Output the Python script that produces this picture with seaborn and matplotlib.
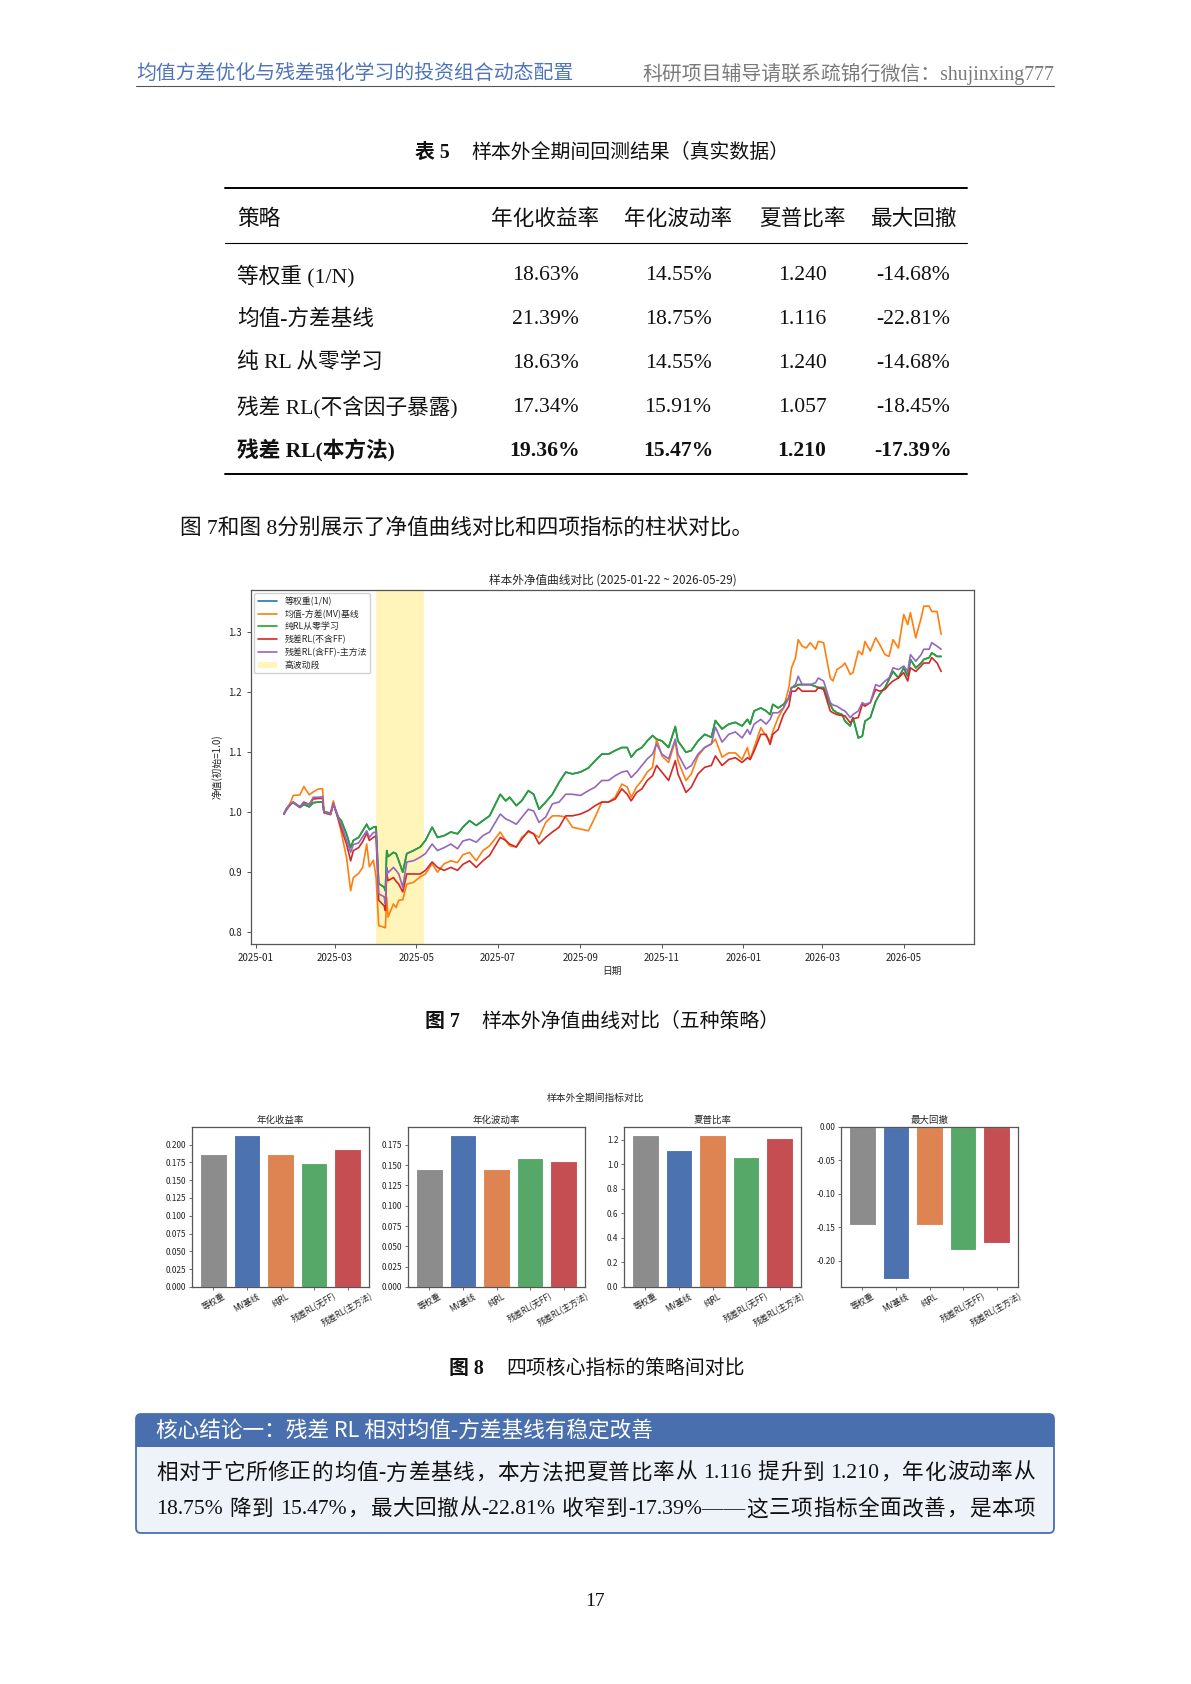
import matplotlib
matplotlib.use("Agg")
import matplotlib.pyplot as plt
import matplotlib.dates as mdates
from matplotlib.patches import FancyBboxPatch, Rectangle
import pandas as pd
import seaborn as sns

# ---------------- data ----------------
# Table 5
table_strategies = ["等权重 (1/N)", "均值-方差基线", "纯 RL 从零学习", "残差 RL(不含因子暴露)", "残差 RL(本方法)"]
table_columns = ["年化收益率", "年化波动率", "夏普比率", "最大回撤"]
ann_return = [18.63, 21.39, 18.63, 17.34, 19.36]
ann_vol = [14.55, 18.75, 14.55, 15.91, 15.47]
sharpe = [1.240, 1.116, 1.240, 1.057, 1.210]
max_dd = [-14.68, -22.81, -14.68, -18.45, -17.39]

# Figure 7: net value curves
nav_dates = [
    "2025-01-22", "2025-01-24", "2025-01-27", "2025-01-29", "2025-02-03", "2025-02-06", "2025-02-10", "2025-02-13", "2025-02-17", "2025-02-20",
    "2025-02-21", "2025-02-26", "2025-02-28", "2025-03-04", "2025-03-06", "2025-03-10", "2025-03-13", "2025-03-15", "2025-03-19", "2025-03-22",
    "2025-03-25", "2025-03-27", "2025-03-30", "2025-04-01", "2025-04-03", "2025-04-07", "2025-04-08", "2025-04-09", "2025-04-10", "2025-04-14",
    "2025-04-16", "2025-04-18", "2025-04-21", "2025-04-24", "2025-04-29", "2025-05-04", "2025-05-08", "2025-05-13", "2025-05-17", "2025-05-22",
    "2025-05-27", "2025-06-01", "2025-06-05", "2025-06-10", "2025-06-15", "2025-06-20", "2025-06-25", "2025-07-03", "2025-07-07", "2025-07-10",
    "2025-07-15", "2025-07-19", "2025-07-24", "2025-07-28", "2025-08-01", "2025-08-06", "2025-08-11", "2025-08-16", "2025-08-21", "2025-08-26",
    "2025-09-01", "2025-09-07", "2025-09-12", "2025-09-17", "2025-09-22", "2025-09-27", "2025-10-02", "2025-10-06", "2025-10-09", "2025-10-13",
    "2025-10-17", "2025-10-21", "2025-10-25", "2025-10-28", "2025-11-01", "2025-11-06", "2025-11-11", "2025-11-13", "2025-11-19", "2025-11-23",
    "2025-11-28", "2025-12-03", "2025-12-08", "2025-12-11", "2025-12-16", "2025-12-21", "2025-12-26", "2025-12-31", "2026-01-04", "2026-01-06",
    "2026-01-09", "2026-01-14", "2026-01-18", "2026-01-21", "2026-01-23", "2026-01-27", "2026-01-31", "2026-02-04", "2026-02-06", "2026-02-09",
    "2026-02-11", "2026-02-14", "2026-02-17", "2026-02-20", "2026-02-24", "2026-02-26", "2026-03-02", "2026-03-07", "2026-03-09", "2026-03-12",
    "2026-03-16", "2026-03-18", "2026-03-22", "2026-03-24", "2026-03-28", "2026-03-31", "2026-04-02", "2026-04-06", "2026-04-10", "2026-04-13",
    "2026-04-17", "2026-04-20", "2026-04-23", "2026-04-27", "2026-05-01", "2026-05-04", "2026-05-06", "2026-05-10", "2026-05-14", "2026-05-16",
    "2026-05-20", "2026-05-22", "2026-05-26", "2026-05-29",
]
nav_pure_rl = [
    0.996, 1.005, 1.013, 1.015, 1.007, 1.012, 1.008, 1.015, 1.016, 1.016,
    1.000, 0.997, 1.012, 0.990, 0.985, 0.962, 0.940, 0.952, 0.957, 0.968,
    0.979, 0.970, 0.974, 0.975, 0.880, 0.874, 0.868, 0.935, 0.925, 0.932,
    0.930, 0.918, 0.899, 0.930, 0.935, 0.941, 0.952, 0.974, 0.957, 0.960,
    0.966, 0.963, 0.974, 0.985, 0.977, 0.985, 0.993, 1.029, 1.018, 1.024,
    1.010, 1.018, 1.035, 1.029, 1.004, 1.016, 1.029, 1.049, 1.066, 1.063,
    1.066, 1.073, 1.085, 1.096, 1.096, 1.102, 1.107, 1.107, 1.091, 1.102,
    1.107, 1.118, 1.127, 1.121, 1.118, 1.107, 1.142, 1.118, 1.099, 1.102,
    1.118, 1.129, 1.124, 1.152, 1.138, 1.146, 1.149, 1.143, 1.154, 1.146,
    1.168, 1.173, 1.168, 1.162, 1.179, 1.173, 1.179, 1.190, 1.207, 1.209,
    1.212, 1.212, 1.212, 1.212, 1.209, 1.207, 1.207, 1.179, 1.170, 1.165,
    1.162, 1.151, 1.143, 1.157, 1.123, 1.126, 1.151, 1.157, 1.184, 1.196,
    1.207, 1.221, 1.234, 1.223, 1.240, 1.226, 1.254, 1.240, 1.248, 1.254,
    1.257, 1.265, 1.259, 1.259,
]
# equal weight has the same stats as pure RL in table 5; its line sits under the green one
nav_equal = list(nav_pure_rl)
nav_mv = [
    0.996, 1.005, 1.015, 1.027, 1.028, 1.042, 1.028, 1.033, 1.038, 1.038,
    1.000, 0.998, 1.018, 0.985, 0.965, 0.922, 0.868, 0.890, 0.897, 0.907,
    0.946, 0.908, 0.919, 0.891, 0.810, 0.807, 0.806, 0.857, 0.824, 0.846,
    0.840, 0.852, 0.853, 0.879, 0.882, 0.891, 0.896, 0.913, 0.899, 0.913,
    0.918, 0.915, 0.928, 0.932, 0.918, 0.935, 0.943, 0.966, 0.952, 0.943,
    0.941, 0.957, 0.966, 0.963, 0.957, 0.982, 0.993, 0.993, 0.991, 0.974,
    0.971, 0.968, 0.991, 1.016, 1.016, 1.024, 1.046, 1.041, 1.024, 1.041,
    1.052, 1.066, 1.074, 1.121, 1.093, 1.082, 1.118, 1.085, 1.052, 1.063,
    1.093, 1.107, 1.113, 1.121, 1.091, 1.098, 1.098, 1.087, 1.107, 1.087,
    1.107, 1.140, 1.126, 1.118, 1.134, 1.157, 1.173, 1.207, 1.240, 1.257,
    1.287, 1.276, 1.273, 1.282, 1.271, 1.284, 1.282, 1.223, 1.218, 1.237,
    1.243, 1.248, 1.229, 1.232, 1.268, 1.262, 1.284, 1.268, 1.290, 1.279,
    1.262, 1.259, 1.287, 1.273, 1.329, 1.312, 1.332, 1.290, 1.323, 1.343,
    1.343, 1.334, 1.334, 1.296,
]
nav_resid_noff = [
    0.996, 1.003, 1.012, 1.016, 1.008, 1.016, 1.012, 1.021, 1.022, 1.022,
    0.998, 0.995, 1.014, 0.985, 0.972, 0.945, 0.918, 0.935, 0.940, 0.950,
    0.964, 0.952, 0.957, 0.960, 0.852, 0.843, 0.835, 0.896, 0.885, 0.890,
    0.884, 0.879, 0.866, 0.896, 0.896, 0.896, 0.902, 0.916, 0.907, 0.902,
    0.907, 0.902, 0.912, 0.918, 0.907, 0.918, 0.927, 0.957, 0.952, 0.946,
    0.941, 0.954, 0.968, 0.963, 0.946, 0.957, 0.966, 0.974, 0.993, 0.993,
    0.996, 1.002, 1.010, 1.016, 1.016, 1.021, 1.038, 1.029, 1.018, 1.032,
    1.038, 1.052, 1.060, 1.077, 1.066, 1.052, 1.085, 1.063, 1.032, 1.041,
    1.063, 1.074, 1.077, 1.093, 1.077, 1.087, 1.090, 1.082, 1.090, 1.087,
    1.101, 1.129, 1.129, 1.112, 1.129, 1.137, 1.162, 1.176, 1.201, 1.201,
    1.207, 1.201, 1.201, 1.201, 1.201, 1.207, 1.204, 1.168, 1.165, 1.162,
    1.160, 1.160, 1.148, 1.155, 1.157, 1.179, 1.176, 1.182, 1.204, 1.201,
    1.204, 1.212, 1.218, 1.223, 1.232, 1.218, 1.240, 1.234, 1.243, 1.248,
    1.248, 1.257, 1.248, 1.234,
]
nav_resid_main = [
    0.996, 1.004, 1.013, 1.016, 1.008, 1.014, 1.012, 1.024, 1.024, 1.025,
    0.999, 0.996, 1.013, 0.988, 0.978, 0.952, 0.932, 0.945, 0.948, 0.958,
    0.968, 0.957, 0.965, 0.966, 0.863, 0.858, 0.846, 0.907, 0.898, 0.907,
    0.902, 0.896, 0.874, 0.916, 0.918, 0.924, 0.930, 0.946, 0.935, 0.940,
    0.946, 0.938, 0.951, 0.954, 0.949, 0.960, 0.966, 0.996, 0.988, 0.985,
    0.979, 0.990, 1.004, 1.001, 0.982, 0.991, 1.013, 1.016, 1.029, 1.029,
    1.027, 1.035, 1.041, 1.052, 1.052, 1.060, 1.066, 1.068, 1.057, 1.066,
    1.077, 1.088, 1.096, 1.113, 1.096, 1.088, 1.121, 1.096, 1.071, 1.077,
    1.096, 1.107, 1.113, 1.141, 1.116, 1.129, 1.133, 1.123, 1.137, 1.129,
    1.146, 1.154, 1.146, 1.154, 1.165, 1.165, 1.173, 1.190, 1.207, 1.212,
    1.226, 1.212, 1.212, 1.212, 1.215, 1.223, 1.218, 1.182, 1.178, 1.176,
    1.170, 1.168, 1.157, 1.162, 1.168, 1.182, 1.179, 1.182, 1.212, 1.209,
    1.218, 1.223, 1.240, 1.237, 1.243, 1.234, 1.262, 1.251, 1.262, 1.271,
    1.271, 1.282, 1.276, 1.271,
]
nav_names = ["等权重(1/N)", "均值-方差(MV)基线", "纯RL从零学习", "残差RL(不含FF)", "残差RL(含FF)-主方法"]
high_vol_start = "2025-04-01"
high_vol_end = "2025-05-07"

# Figure 8: bar comparison
bar_labels = ["等权重", "MV基线", "纯RL", "残差RL(无FF)", "残差RL(主方法)"]
bar_titles = ["年化收益率", "年化波动率", "夏普比率", "最大回撤"]

# ---------------- styling ----------------
W, H = 1191, 1684
SANS = ["Noto Sans CJK SC", "DejaVu Sans"]
SERIF = ["Liberation Serif", "Noto Sans CJK SC"]
BODY = 15.6

sns.set_style("ticks")
plt.rcParams["font.family"] = SANS
plt.rcParams["axes.unicode_minus"] = False
plt.rcParams["axes.edgecolor"] = "#555555"
plt.rcParams["xtick.color"] = "#555555"
plt.rcParams["ytick.color"] = "#555555"
plt.rcParams["xtick.labelcolor"] = "#222222"
plt.rcParams["ytick.labelcolor"] = "#222222"

fig = plt.figure(figsize=(W / 100, H / 100), dpi=100)

# page layer in pixel coordinates
page = fig.add_axes([0, 0, 1, 1])
page.set_xlim(0, W)
page.set_ylim(H, 0)
page.axis("off")


def put(x, y, s, size=BODY, fam=SERIF, weight="light", color="#111111", ha="left"):
    return page.text(x, y, s, fontsize=size, family=fam, fontweight=weight,
                     color=color, ha=ha, va="center")


def is_cjk(ch):
    return ord(ch) > 0x2E80


def put_justified(x0, x1, y, s, size=BODY):
    # split into CJK glyphs, latin runs and spaces, then spread the slack evenly
    tokens = []
    run = ""
    for ch in s:
        if ch == " " or is_cjk(ch):
            if run:
                tokens.append(run)
                run = ""
            tokens.append(ch)
        else:
            run += ch
    if run:
        tokens.append(run)
    r = fig.canvas.get_renderer()
    widths = []
    for tk in tokens:
        if tk == " ":
            widths.append(size * 100 / 72 * 0.25)
            continue
        t = put(0, y, tk, size=size)
        widths.append(t.get_window_extent(r).width)
        t.remove()
    gap = (x1 - x0 - sum(widths)) / (len(tokens) - 1)
    x = x0
    for tk, w in zip(tokens, widths):
        if tk != " ":
            put(x, y, tk, size=size)
        x += w + gap


# header
put(136, 74, "均值方差优化与残差强化学习的投资组合动态配置", size=14.3, color="#4F74BA")
put(1054, 74, "科研项目辅导请联系疏锦行微信：shujinxing777", size=14.3, color="#7A7A7A", ha="right")
page.plot([136, 1054], [86, 86], color="#555555", lw=0.8)

# table caption
put(450, 153, "表 5", size=14.3, weight="bold", ha="right")
put(471, 153, "样本外全期间回测结果（真实数据）", size=14.3)

# table
page.plot([225, 967], [188, 188], color="black", lw=1.4)
page.plot([225, 967], [243, 243], color="black", lw=0.8)
page.plot([225, 967], [474, 474], color="black", lw=1.4)
col_x = [545, 678, 802, 913]
put(237, 219, "策略", fam=SANS, weight="medium")
for cx, name in zip(col_x, table_columns):
    put(cx, 219, name, fam=SANS, weight="medium", ha="center")

row_y = [276, 319, 363, 407, 451]
for i, name in enumerate(table_strategies):
    w = "bold" if i == len(table_strategies) - 1 else "light"
    put(237, row_y[i], name, weight=w)
    vals = [f"{ann_return[i]:.2f}%", f"{ann_vol[i]:.2f}%", f"{sharpe[i]:.3f}", f"{max_dd[i]:.2f}%"]
    for cx, v in zip(col_x, vals):
        put(cx, row_y[i], v, weight=w, ha="center")

put(180, 528, "图 7和图 8分别展示了净值曲线对比和四项指标的柱状对比。")

# ---------------- figure 7 ----------------
ax = fig.add_axes([251 / W, 1 - 944 / H, (974 - 251) / W, (944 - 590) / H])
dates = pd.to_datetime(nav_dates)
series = [nav_equal, nav_mv, nav_pure_rl, nav_resid_noff, nav_resid_main]
colors = ["#1f77b4", "#ff7f0e", "#2ca02c", "#d62728", "#9467bd"]
for name, vals, color in zip(nav_names, series, colors):
    sns.lineplot(x=dates, y=vals, ax=ax, color=color, linewidth=1.2,
                 label=name, errorbar=None)
ax.axvspan(pd.Timestamp(high_vol_start), pd.Timestamp(high_vol_end),
           color="#FFD700", alpha=0.27, lw=0, label="高波动段")
ax.xaxis.set_major_locator(mdates.MonthLocator(bymonth=[1, 3, 5, 7, 9, 11]))
ax.xaxis.set_major_formatter(mdates.DateFormatter("%Y-%m"))
ax.tick_params(labelsize=7, length=3, width=0.7)
for sp in ax.spines.values():
    sp.set_visible(True)
    sp.set_linewidth(0.9)
ax.set_title("样本外净值曲线对比 (2025-01-22 ~ 2026-05-29)", fontsize=8.4, pad=5)
ax.set_xlabel("日期", fontsize=7, labelpad=2)
ax.set_ylabel("净值(初始=1.0)", fontsize=7, labelpad=4)
ax.legend(loc="upper left", fontsize=6.4, framealpha=0.9, handlelength=2.2,
          borderaxespad=0.35, labelspacing=0.4)

put(460, 1022, "图 7", size=14.3, weight="bold", ha="right")
put(481, 1022, "样本外净值曲线对比（五种策略）", size=14.3)

# ---------------- figure 8 ----------------
fig.text(595 / W, 1 - 1098 / H, "样本外全期间指标对比", fontsize=7,
         ha="center", va="center", family=SANS)
bar_colors = ["#8C8C8C", "#4C72B0", "#DD8452", "#55A868", "#C44E52"]
bar_values = [
    [v / 100 for v in ann_return],
    [v / 100 for v in ann_vol],
    sharpe,
    [v / 100 for v in max_dd],
]
bar_left = [192, 408, 624, 841]
for x0, title, vals in zip(bar_left, bar_titles, bar_values):
    bx = fig.add_axes([x0 / W, 1 - 1287 / H, 177 / W, 160 / H])
    sns.barplot(x=bar_labels, y=vals, hue=bar_labels, palette=bar_colors,
                legend=False, ax=bx, saturation=1, width=0.8,
                edgecolor="white", linewidth=0.8)
    bx.set_xlim(-0.64, 4.64)
    bx.set_title(title, fontsize=6.8, pad=3)
    bx.set_xlabel("")
    bx.set_ylabel("")
    bx.tick_params(axis="x", labelsize=6, rotation=30, length=2.5, width=0.6, pad=1)
    bx.tick_params(axis="y", labelsize=5.9, length=2.5, width=0.6, pad=1.5)
    for sp in bx.spines.values():
        sp.set_visible(True)
        sp.set_linewidth(0.9)

put(484, 1369, "图 8", size=14.3, weight="bold", ha="right")
put(506, 1369, "四项核心指标的策略间对比", size=14.3)

# ---------------- conclusion box ----------------
blue = "#4A6FAE"
page.add_patch(FancyBboxPatch((136, 1414), 918, 119, boxstyle="round,pad=0,rounding_size=5",
                              facecolor="#EEF3FA", edgecolor="none"))
page.add_patch(FancyBboxPatch((136, 1414), 918, 33, boxstyle="round,pad=0,rounding_size=5",
                              facecolor=blue, edgecolor="none"))
page.add_patch(Rectangle((136, 1437), 918, 10, facecolor=blue, edgecolor="none"))
page.add_patch(FancyBboxPatch((136, 1414), 918, 119, boxstyle="round,pad=0,rounding_size=5",
                              facecolor="none", edgecolor=blue, lw=1.3))
put(156, 1431, "核心结论一：残差 RL 相对均值-方差基线有稳定改善", size=15.6,
    fam=SANS, weight="normal", color="white")
put_justified(156, 1035, 1474, "相对于它所修正的均值-方差基线，本方法把夏普比率从 1.116 提升到 1.210，年化波动率从")
put_justified(156, 1035, 1510, "18.75% 降到 15.47%，最大回撤从-22.81% 收窄到-17.39%——这三项指标全面改善，是本项")

put(595, 1601, "17", size=14, ha="center", weight="normal")

fig.savefig("out.png", dpi=100)
